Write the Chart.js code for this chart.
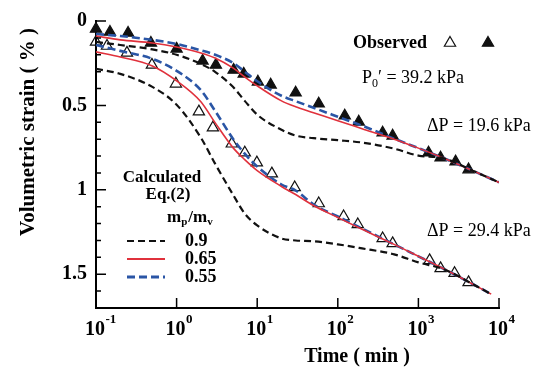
<!DOCTYPE html>
<html>
<head>
<meta charset="utf-8">
<script src="https://cdn.jsdelivr.net/npm/chart.js@4.4.0/dist/chart.umd.min.js"></script>
<style>
  html, body { margin: 0; padding: 0; background: #fff; }
</style>
</head>
<body>
<canvas id="chart" width="543" height="374"></canvas>
<script>
// calculated curves, time in min
const timesUpper = [0.1, 0.2, 0.5, 1, 2, 3, 5, 7, 10, 20, 30, 50, 100, 200, 500, 1000, 2000, 5000, 10000];
const timesLower = [0.1, 0.2, 0.5, 1, 2, 3, 5, 7, 10, 20, 30, 50, 100, 200, 500, 1000, 2000, 5000, 8000];

// dP = 19.6 kPa
const upper09  = [0.124, 0.142, 0.168, 0.200, 0.254, 0.301, 0.390, 0.473, 0.555, 0.644, 0.679, 0.694, 0.706, 0.720, 0.756, 0.797, 0.812, 0.892, 0.956];
const upper065 = [0.089, 0.112, 0.130, 0.154, 0.189, 0.219, 0.278, 0.331, 0.384, 0.473, 0.508, 0.543, 0.591, 0.638, 0.700, 0.753, 0.810, 0.892, 0.956];
const upper055 = [0.077, 0.089, 0.112, 0.136, 0.174, 0.200, 0.248, 0.300, 0.357, 0.443, 0.475, 0.514, 0.567, 0.620, 0.697, 0.753, 0.810, 0.892, 0.956];

// dP = 29.4 kPa
const lower09  = [0.284, 0.313, 0.390, 0.496, 0.691, 0.845, 1.028, 1.140, 1.211, 1.288, 1.300, 1.305, 1.323, 1.347, 1.382, 1.430, 1.468, 1.565, 1.618];
const lower065 = [0.183, 0.213, 0.266, 0.354, 0.478, 0.602, 0.750, 0.821, 0.886, 0.980, 1.028, 1.093, 1.164, 1.234, 1.323, 1.394, 1.465, 1.565, 1.618];
const lower055 = [0.142, 0.177, 0.224, 0.295, 0.410, 0.532, 0.697, 0.786, 0.862, 0.969, 1.004, 1.087, 1.158, 1.229, 1.323, 1.394, 1.465, 1.565, 1.618];

// observed
const obsTimesFilled = [0.1, 0.149, 0.25, 0.48, 1.0, 2.1, 3.07, 5.1, 6.8, 10.2, 14.7, 30, 58, 122, 182, 360, 479, 1337, 1884, 2890, 4190];
const obsFilled      = [0.047, 0.065, 0.071, 0.130, 0.165, 0.236, 0.260, 0.290, 0.313, 0.360, 0.378, 0.425, 0.490, 0.561, 0.597, 0.662, 0.680, 0.780, 0.810, 0.833, 0.880];
const obsTimesOpen   = [0.1, 0.137, 0.242, 0.494, 0.98, 1.89, 2.82, 4.84, 7.02, 9.9, 15.2, 29.2, 58, 118, 177, 360, 479, 1377, 1884, 2810, 4190];
const obsOpen        = [0.124, 0.148, 0.189, 0.260, 0.372, 0.537, 0.632, 0.727, 0.780, 0.839, 0.904, 0.986, 1.081, 1.158, 1.205, 1.288, 1.317, 1.418, 1.465, 1.494, 1.548];

const xDecades = [0.1, 1, 10, 100, 1000, 10000];
const xExponents = ["-1", "0", "1", "2", "3", "4"];
const yLabels = [0, 0.5, 1, 1.5];

const BLACK = "#111111";
const RED = "#e0313c";
const BLUE = "#2a55a5";
const SERIF = "'Liberation Serif', 'Times New Roman', serif";

function pts(xs, ys) {
    return xs.map((x, i) => ({ x: x, y: ys[i] }));
}

function lineSet(xs, ys, color, width, dash) {
    return {
        data: pts(xs, ys),
        borderColor: color,
        borderWidth: width,
        borderDash: dash,
        pointRadius: 0,
        fill: false,
        cubicInterpolationMode: "monotone",
        order: 0
    };
}

function markerSet(xs, ys, filled) {
    return {
        data: pts(xs, ys),
        showLine: false,
        pointStyle: "triangle",
        pointRadius: 6.5,
        pointBorderWidth: 1.2,
        pointBorderColor: BLACK,
        pointBackgroundColor: filled ? BLACK : "rgba(255,255,255,0)",
        clip: false,
        order: 1
    };
}

const decor = {
    id: "decor",
    afterDraw(chart) {
        const ctx = chart.ctx;
        const xs = chart.scales.x;
        const ys = chart.scales.y;
        const area = chart.chartArea;
        ctx.save();
        ctx.strokeStyle = "#000";
        ctx.fillStyle = "#000";
        ctx.lineWidth = 1.5;

        // inward tick marks
        ctx.beginPath();
        xDecades.forEach(v => {
            const px = xs.getPixelForValue(v);
            ctx.moveTo(px, area.bottom);
            ctx.lineTo(px, area.bottom - 10);
        });
        for (let i = 0; i <= 17; i++) {
            const v = i / 10;
            const py = ys.getPixelForValue(v);
            const len = (i % 5 === 0) ? 10 : 5;
            ctx.moveTo(area.left, py);
            ctx.lineTo(area.left + len, py);
        }
        ctx.stroke();

        // x tick labels 10^n
        ctx.textBaseline = "alphabetic";
        ctx.textAlign = "left";
        xDecades.forEach((v, i) => {
            const px = xs.getPixelForValue(v);
            ctx.font = "bold 20px " + SERIF;
            const w1 = ctx.measureText("10").width;
            const x0 = px - w1 / 2 - 1;
            ctx.fillText("10", x0, 335);
            ctx.font = "bold 13px " + SERIF;
            ctx.fillText(xExponents[i], x0 + w1 + 0.5, 323);
        });

        // axis titles
        ctx.font = "bold 20px " + SERIF;
        ctx.textAlign = "center";
        ctx.textBaseline = "middle";
        ctx.fillText("Time ( min )", 357, 357);
        ctx.save();
        ctx.translate(29, 132);
        ctx.rotate(-Math.PI / 2);
        ctx.font = "bold 21px " + SERIF;
        ctx.fillText("Volumetric strain ( % )", 0, 0);
        ctx.restore();

        // observed key
        ctx.font = "bold 18px " + SERIF;
        ctx.textAlign = "left";
        ctx.fillText("Observed", 353, 43);
        drawTri(ctx, 450, 43, false);
        drawTri(ctx, 488, 43, true);

        // pressure notes
        ctx.font = "18px " + SERIF;
        ctx.textBaseline = "alphabetic";
        let x = 362;
        ctx.fillText("P", x, 83);
        x += ctx.measureText("P").width;
        ctx.font = "12px " + SERIF;
        ctx.fillText("0", x, 87);
        x += ctx.measureText("0").width;
        ctx.font = "18px " + SERIF;
        ctx.fillText("\u2032 = 39.2 kPa", x, 83);
        ctx.fillText("\u0394P = 19.6 kPa", 427, 131);
        ctx.fillText("\u0394P = 29.4 kPa", 427, 236);

        // calculated key
        ctx.font = "bold 17px " + SERIF;
        ctx.textBaseline = "middle";
        ctx.textAlign = "center";
        ctx.fillText("Calculated", 162, 178);
        ctx.fillText("Eq.(2)", 168, 195);
        ctx.textAlign = "left";
        ctx.textBaseline = "alphabetic";
        x = 167;
        ctx.fillText("m", x, 222);
        x += ctx.measureText("m").width;
        ctx.font = "bold 11px " + SERIF;
        ctx.fillText("p", x, 225);
        x += ctx.measureText("p").width + 1;
        ctx.font = "bold 17px " + SERIF;
        ctx.fillText("/m", x, 222);
        x += ctx.measureText("/m").width;
        ctx.font = "bold 11px " + SERIF;
        ctx.fillText("v", x, 225);

        const keys = [
            { label: "0.9", color: BLACK, width: 2.2, dash: [7, 4], y: 241 },
            { label: "0.65", color: RED, width: 1.8, dash: [], y: 259 },
            { label: "0.55", color: BLUE, width: 2.8, dash: [8, 4], y: 277 }
        ];
        keys.forEach(k => {
            ctx.beginPath();
            ctx.strokeStyle = k.color;
            ctx.lineWidth = k.width;
            ctx.setLineDash(k.dash);
            ctx.moveTo(127, k.y);
            ctx.lineTo(165, k.y);
            ctx.stroke();
            ctx.setLineDash([]);
            ctx.font = "bold 18px " + SERIF;
            ctx.textBaseline = "middle";
            ctx.fillStyle = "#000";
            ctx.fillText(k.label, 185, k.y);
        });
        ctx.restore();
    }
};

function drawTri(ctx, x, y, filled) {
    const r = 6.5;
    ctx.beginPath();
    ctx.moveTo(x, y - r);
    ctx.lineTo(x + r * 0.866, y + r * 0.5);
    ctx.lineTo(x - r * 0.866, y + r * 0.5);
    ctx.closePath();
    ctx.lineWidth = 1.2;
    ctx.strokeStyle = BLACK;
    if (filled) { ctx.fillStyle = BLACK; ctx.fill(); }
    ctx.stroke();
    ctx.fillStyle = "#000";
}

new Chart(document.getElementById("chart").getContext("2d"), {
    type: "scatter",
    data: {
        datasets: [
            markerSet(obsTimesFilled, obsFilled, true),
            markerSet(obsTimesOpen, obsOpen, false),
            lineSet(timesUpper, upper09, BLACK, 2.2, [7, 4]),
            lineSet(timesLower, lower09, BLACK, 2.2, [7, 4]),
            lineSet(timesUpper, upper065, RED, 1.6, []),
            lineSet(timesLower, lower065, RED, 1.6, []),
            lineSet(timesUpper, upper055, BLUE, 2.6, [8, 4]),
            lineSet(timesLower, lower055, BLUE, 2.6, [8, 4])
        ].map(d => Object.assign({ showLine: true }, d))
    },
    options: {
        responsive: false,
        devicePixelRatio: 1,
        animation: false,
        layout: { padding: { left: 0, top: 20, right: 44, bottom: 0 } },
        plugins: { legend: { display: false }, tooltip: { enabled: false } },
        scales: {
            x: {
                type: "logarithmic",
                min: 0.1,
                max: 10000,
                grid: { display: false },
                border: { display: true, color: "#000", width: 2 },
                ticks: { display: false },
                afterFit: s => { s.height = 66; }
            },
            y: {
                type: "linear",
                reverse: true,
                min: 0,
                max: 1.7,
                grid: { display: false, drawTicks: false },
                border: { display: true, color: "#000", width: 2 },
                ticks: {
                    stepSize: 0.1,
                    autoSkip: false,
                    padding: 9,
                    color: "#000",
                    font: { family: SERIF, size: 20, weight: "bold" },
                    callback: v => yLabels.some(l => Math.abs(l - v) < 1e-6) ? String(Math.round(v * 10) / 10) : ""
                },
                afterFit: s => { s.width = 96; }
            }
        }
    },
    plugins: [decor]
});
</script>
</body>
</html>
